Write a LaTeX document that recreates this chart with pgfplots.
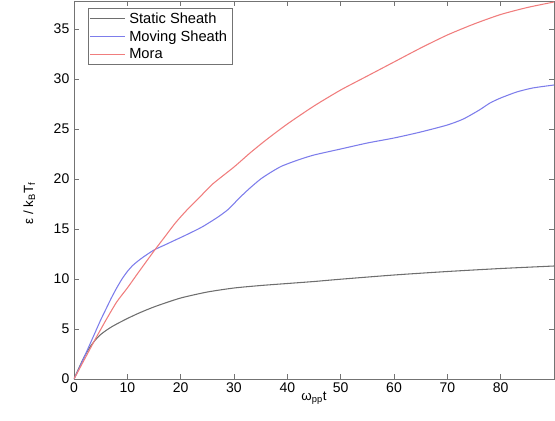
\documentclass[border=0pt]{standalone}
\usepackage{pgfplots}
\pgfplotsset{compat=1.18}
\usepackage{fontspec}
\setmainfont{Liberation Sans}
\definecolor{statc}{RGB}{110,110,110}
\definecolor{movc}{RGB}{125,125,235}
\definecolor{morac}{RGB}{240,125,125}
\begin{document}
\begin{tikzpicture}
\begin{axis}[
  scale only axis,
  width=360pt, height=283.5pt,
  xmin=0, xmax=90, ymin=0, ymax=37.8,
  xtick={0,10,...,80}, ytick={0,5,...,35},
  tick align=inside, tick pos=both,
  major tick length=4pt,
  axis line style={draw=black!55},
  every tick/.style={draw=black!55},
  /pgf/number format/assume math mode=true,
  tick label style={font=\fontsize{10.5}{12}\selectfont},
  xticklabel style={yshift=1pt},
  xlabel={ω\textsubscript{pp}t},
  ylabel={ε / k\textsubscript{B}T\textsubscript{f}},
  label style={font=\fontsize{10}{11}\selectfont},
  xlabel style={yshift=7pt},
  ylabel style={yshift=7pt, xshift=-10pt},
  legend cell align=left,
  legend style={at={(rel axis cs:0.029,0.981)}, anchor=north west,
    draw=black!55, font=\fontsize{11}{12}\selectfont,
    inner xsep=1pt, inner ysep=1pt, row sep=0pt,
    nodes={inner xsep=3pt}},
  legend image code/.code={\draw[#1] (3pt,0pt) -- (23pt,0pt); \path (0pt,0pt) -- (26pt,0pt);},
]
\addplot[statc, line width=0.8pt, smooth, tension=0.4] coordinates {
(0,0) (1,1.2) (2,2.3) (3,3.2) (4,3.9) (5,4.45) (6,4.85) (7,5.2) (8,5.5) (10,6.05) (12,6.55) (14,7.0) (16,7.4) (20,8.1) (25,8.7) (30,9.1) (35,9.35) (40,9.55) (45,9.75) (50,9.98) (60,10.4) (70,10.75) (80,11.05) (90,11.3)
};
\addlegendentry{Static Sheath\hspace{9pt}}
\addplot[movc, line width=0.8pt, smooth, tension=0.4] coordinates {
(0,0) (1,1.1) (2,2.3) (3,3.5) (4,4.7) (5,5.9) (6,7.0) (7,8.1) (8,9.1) (9,10.0) (10,10.75) (11,11.35) (12,11.8) (13,12.2) (15,12.9) (17,13.4) (19,13.9) (21,14.4) (24,15.2) (27,16.2) (29,17.0) (31,18.1) (33,19.1) (35,20.0) (37,20.7) (39,21.3) (42,21.9) (45,22.4) (50,23.0) (55,23.6) (60,24.1) (65,24.7) (70,25.4) (73,26.0) (76,26.9) (78,27.6) (80,28.1) (83,28.7) (86,29.1) (90,29.4)
};
\addlegendentry{Moving Sheath\hspace{9pt}}
\addplot[morac, line width=0.8pt, smooth, tension=0.4] coordinates {
(0,0) (1,1.0) (2,2.0) (3,3.0) (4,4.0) (5,4.95) (6,5.9) (8,7.7) (10,9.1) (12,10.6) (15,12.8) (17,14.2) (19,15.6) (21,16.8) (23.6,18.2) (26,19.5) (30,21.2) (33,22.6) (36,23.9) (40,25.5) (45,27.3) (50,28.9) (55,30.3) (60,31.7) (65,33.1) (70,34.4) (75,35.5) (80,36.45) (85,37.15) (90,37.7)
};
\addlegendentry{Mora}
\end{axis}
\pgfresetboundingbox
\useasboundingbox ([xshift=-55.5pt,yshift=-30.75pt]current axis.south west) rectangle ([xshift=0.75pt,yshift=0.75pt]current axis.north east);
\end{tikzpicture}
\end{document}
